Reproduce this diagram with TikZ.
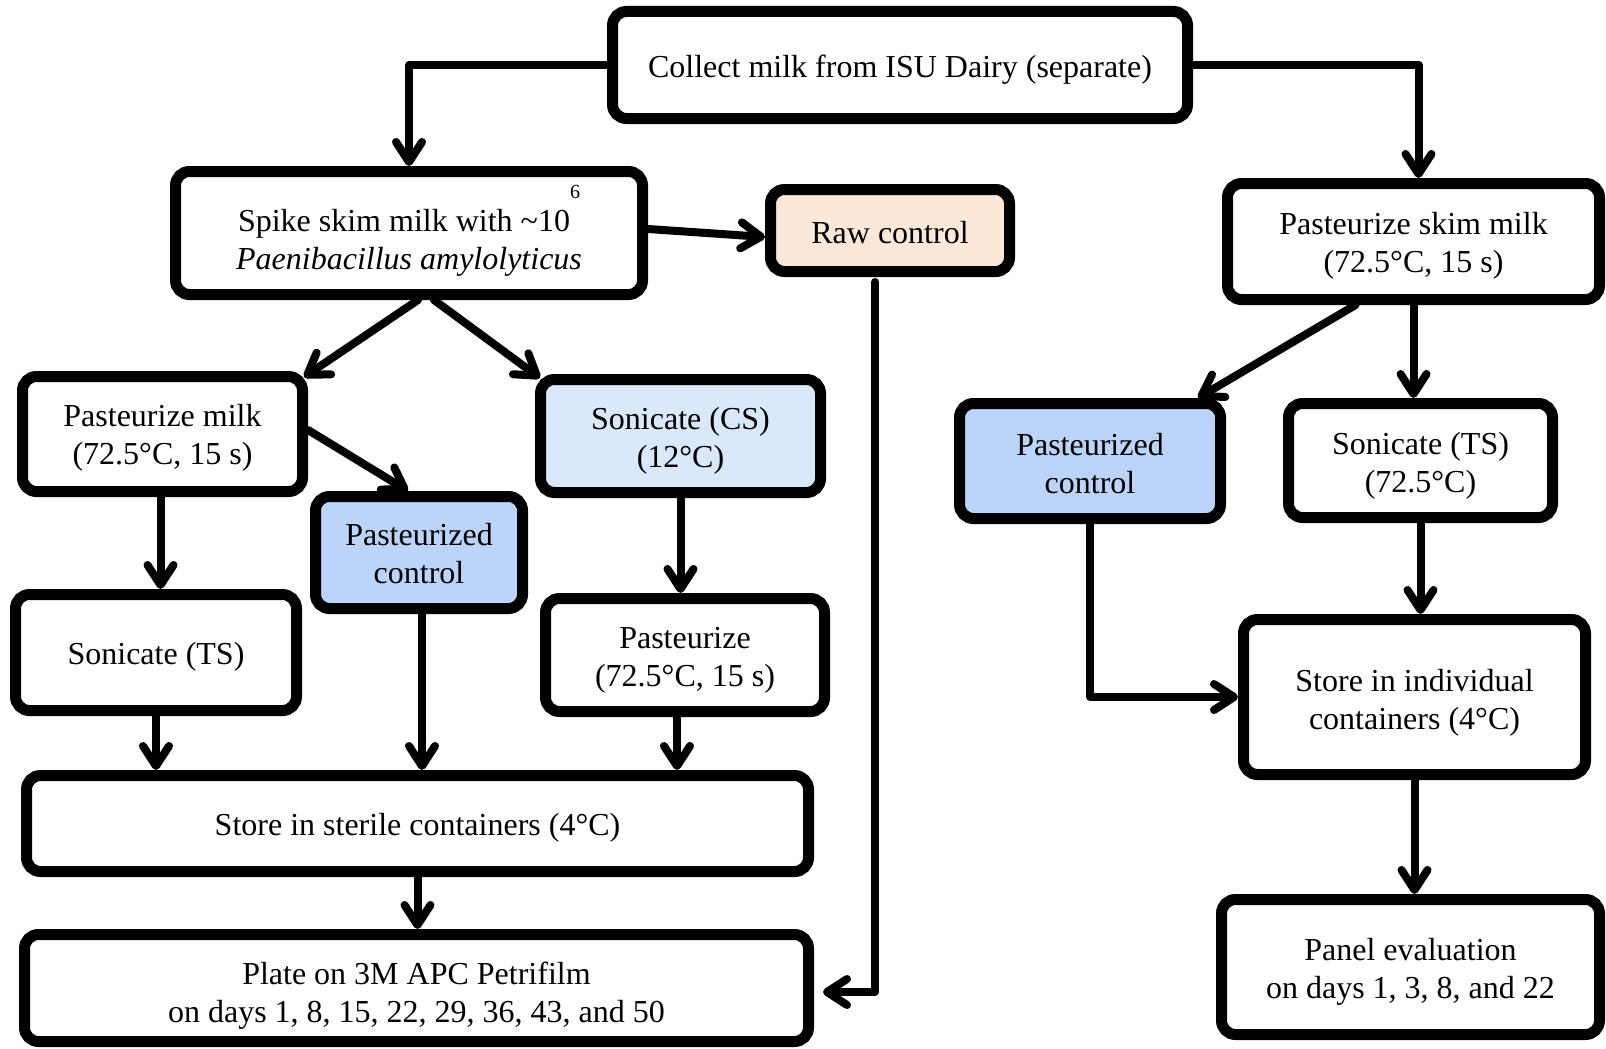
\documentclass[tikz,border=0pt]{standalone}
\usepackage{fontspec}
\setmainfont{Liberation Serif}
\usetikzlibrary{arrows.meta,calc}
\definecolor{rawfill}{HTML}{FCE8D9}
\definecolor{csfill}{HTML}{DAE8FC}
\definecolor{pcfill}{HTML}{BDD4FA}
\newcommand{\boxtext}[2][4pt]{\raisebox{-#1}[\height][\depth]{\begin{tabular}{@{}c@{}}#2\end{tabular}}}
\begin{document}
\begin{tikzpicture}[x=1pt,y=-1pt,
  box/.style={draw=black, line width=11pt, rounded corners=14pt, fill=white, align=center,
    inner sep=0pt, outer sep=5.5pt, font=\fontsize{32}{38}\selectfont},
  arr/.style={line width=8pt, line cap=round, line join=round,
    -{Straight Barb[length=20pt,width=26pt,round]}},
]
\useasboundingbox (0,0) rectangle (1606,1049);
% nodes
\node[box, minimum width=575pt, minimum height=107pt] (collect) at (900,65) {\boxtext[5pt]{Collect milk from ISU Dairy (separate)}};
\node[box, minimum width=467pt, minimum height=123pt] (spike) at (409,233) {\boxtext[10pt]{Spike skim milk with \textasciitilde10\raisebox{33pt}[0pt][0pt]{\fontsize{20}{20}\selectfont 6}\\\textit{Paenibacillus amylolyticus}}};
\node[box, fill=rawfill, minimum width=239pt, minimum height=82pt] (raw) at (890,230.5) {\boxtext[5pt]{Raw control}};
\node[box, minimum width=372pt, minimum height=116pt] (pskim) at (1413.5,241.5) {\boxtext[4.5pt]{Pasteurize skim milk\\(72.5°C, 15 s)}};
\node[box, minimum width=280pt, minimum height=115pt] (pmilk) at (162.5,434) {\boxtext[3.5pt]{Pasteurize milk\\(72.5°C, 15 s)}};
\node[box, fill=csfill, minimum width=280pt, minimum height=113pt] (cs) at (680.5,436) {\boxtext[4.5pt]{Sonicate (CS)\\(12°C)}};
\node[box, fill=pcfill, minimum width=207pt, minimum height=112pt] (pcl) at (419,552.5) {\boxtext[4pt]{Pasteurized\\control}};
\node[box, minimum width=281pt, minimum height=116pt] (tsl) at (156,652.5) {\boxtext[4pt]{Sonicate (TS)}};
\node[box, minimum width=279pt, minimum height=113pt] (past) at (685,655) {\boxtext[4.5pt]{Pasteurize\\(72.5°C, 15 s)}};
\node[box, minimum width=782pt, minimum height=96pt] (storel) at (417.5,823.5) {\boxtext[4pt]{Store in sterile containers (4°C)}};
\node[box, minimum width=784pt, minimum height=107pt] (plate) at (416.5,988) {\boxtext[8pt]{Plate on 3M APC Petrifilm\\on days 1, 8, 15, 22, 29, 36, 43, and 50}};
\node[box, fill=pcfill, minimum width=261pt, minimum height=115pt] (pcr) at (1090,461) {\boxtext[5.5pt]{Pasteurized\\control}};
\node[box, minimum width=264pt, minimum height=114pt] (tsr) at (1420.5,460.5) {\boxtext[5.5pt]{Sonicate (TS)\\(72.5°C)}};
\node[box, minimum width=342pt, minimum height=155pt] (storer) at (1414.5,697) {\boxtext[5.5pt]{Store in individual\\containers (4°C)}};
\node[box, minimum width=378pt, minimum height=135pt] (panel) at (1410.5,967) {\boxtext[5pt]{Panel evaluation\\on days 1, 3, 8, and 22}};
% connectors
\draw[arr] (collect.west) -| (spike.north);
\draw[arr] (collect.east) -| ([xshift=5pt]pskim.north);
\draw[arr] ([yshift=4pt]spike.east) -- ([yshift=-6.5pt]raw.west);
\draw[arr] ([xshift=9pt]spike.south) -- ([xshift=-4pt,yshift=-6pt]pmilk.north east);
\draw[arr] ([xshift=25pt]spike.south) -- ([xshift=5pt,yshift=-4pt]cs.north west);
\draw[arr] ([yshift=4pt]pmilk.east) -- ([xshift=-11pt]pcl.north);
\draw[arr] ([xshift=-2pt]pmilk.south) -- ([xshift=-2pt]pmilk.south |- tsl.north);
\draw[arr] (cs.south) -- (cs.south |- past.north);
\draw[arr] (tsl.south) -- (tsl.south |- storel.north);
\draw[arr] ([xshift=3pt]pcl.south) -- ([xshift=3pt]pcl.south |- storel.north);
\draw[arr] ([xshift=-8pt]past.south) -- ([xshift=-8pt]past.south |- storel.north);
\draw[arr] (storel.south) -- (storel.south |- plate.north);
\draw[arr] ([xshift=-15pt,yshift=-5pt]raw.south) |- ([xshift=9pt,yshift=-4pt]plate.east);
\draw[arr] ([xshift=-58pt]pskim.south) -- ([xshift=-28pt]pcr.north east);
\draw[arr] (pskim.south) -- (pskim.south |- tsr.north);
\draw[arr] (tsr.south) -- (tsr.south |- storer.north);
\draw[arr] (pcr.south) |- (storer.west);
\draw[arr] (storer.south) -- (storer.south |- panel.north);
\end{tikzpicture}
\end{document}
